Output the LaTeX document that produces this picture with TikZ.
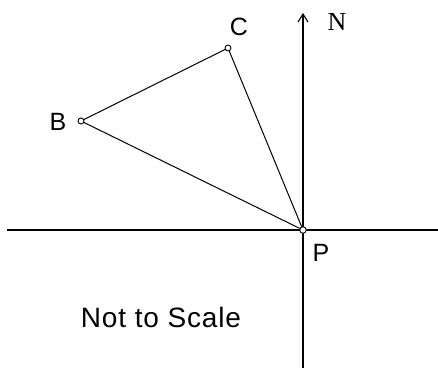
\documentclass[tikz,border=0pt]{standalone}
\usepackage{fontspec}
\setmainfont{Liberation Serif}
\setsansfont{Liberation Sans}
\newfontfamily\notefont[LetterSpace=3]{Liberation Sans}
\usetikzlibrary{arrows.meta}

\begin{document}
\begin{tikzpicture}[x=1pt,y=-1pt,>={Straight Barb[length=8pt,width=10pt]},
 station/.style={circle,draw,fill=white,inner sep=0pt,minimum size=6.5pt,line width=0.9pt},
 letter/.style={font=\fontsize{25}{30}\selectfont\sffamily,inner sep=0pt},
 axis/.style={line width=1.1pt},
 leg/.style={line width=1pt}]
\useasboundingbox (0,0) rectangle (438,368);
\coordinate (west) at (7,230);
\coordinate (east) at (438,230);
\coordinate (south) at (303,368);
\coordinate (north) at (303,13);
\draw[axis] (west) -- (east);
\draw[axis,->] (south) -- (north);
\node[station] (P) at (303,230) {};
\node[station,minimum size=6pt] (B) at (81,121) {};
\node[station,minimum size=6pt] (C) at (228,48) {};
\node[letter] (labelB) at (58,122) {B};
\node[letter] (labelC) at (239,27) {C};
\node[letter] (labelP) at (321,253) {P};
\node[font=\fontsize{26}{30}\selectfont\rmfamily,inner sep=0pt] (labelN) at (337,22) {N};
\node[font=\fontsize{28}{32}\selectfont\notefont,inner sep=0pt] (note) at (161,317) {Not to Scale};
\draw[leg] (P) -- (B);
\draw[leg] (B) -- (C);
\draw[leg] (C) -- (P);
\end{tikzpicture}
\end{document}
